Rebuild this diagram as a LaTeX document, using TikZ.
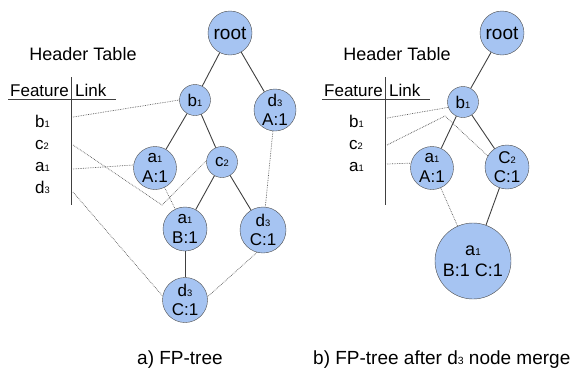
\documentclass[tikz,border=0pt]{standalone}
\usepackage{fontspec}
\setmainfont{Liberation Sans}
\usetikzlibrary{positioning}
\definecolor{nodeblue}{RGB}{166,196,242}
\tikzset{fpnode/.style={circle,draw=black!70,fill=nodeblue,inner sep=0pt,
    align=center,font=\fontsize{17}{19.5}\selectfont}}
\tikzset{tree/.style={draw=black!75,line width=0.9pt}}
\tikzset{link/.style={densely dotted,draw=black!65,line width=0.7pt}}
\tikzset{item/.style={font=\fontsize{17}{17}\selectfont,inner sep=0pt,anchor=base west}}
\tikzset{htitle/.style={font=\fontsize{18}{18}\selectfont,inner sep=0pt,anchor=base}}
\tikzset{caption/.style={font=\fontsize{19}{19}\selectfont,inner sep=0pt,anchor=base west}}
\newcommand{\ix}[1]{\scalebox{0.55}{#1}}
\newcommand{\headertable}[2]{
    \node[htitle] (#2title) at (#1+12,60) {Header Table};
    \node[item] (#2feat) at (#1-61,96) {Feature};
    \node[item] (#2link) at (#1+4,96) {Link};
    \draw[tree] (#1-63,99) -- (#1+45,99);
    \draw[tree] (#1,77) -- (#1,205);
}

\begin{document}
\begin{tikzpicture}[x=1pt,y=-1pt]
        \useasboundingbox (0,0) rectangle (576,373);

        % a) FP-tree
        \headertable{71}{l}
        \node[item] (lib) at (35,127) {b\ix{1}};
        \node[item] (lic) at (35,149) {c\ix{2}};
        \node[item] (lia) at (35,171) {a\ix{1}};
        \node[item] (lid) at (35,193) {d\ix{3}};
        \coordinate (lhb) at (73,117);
        \coordinate (lhc) at (73,145);
        \coordinate (lha) at (73,169);
        \coordinate (lhd) at (73,192);
        \coordinate (lbend) at (162,205);

        \node[fpnode,minimum size=44pt,font=\fontsize{19}{19}\selectfont] (lroot) at (230,33) {root};
        \node[fpnode,minimum size=31pt] (lb) at (195,100) {b\ix{1}};
        \node[fpnode,minimum size=42pt] (ld1) at (275,110) {d\ix{3}\\A:1};
        \node[fpnode,minimum size=43pt] (la1) at (155,168) {a\ix{1}\\A:1};
        \node[fpnode,minimum size=31pt] (lc) at (222,162) {c\ix{2}};
        \node[fpnode,minimum size=44pt] (la2) at (185,229) {a\ix{1}\\B:1};
        \node[fpnode,minimum size=46pt] (ld2) at (263,230) {d\ix{3}\\C:1};
        \node[fpnode,minimum size=45pt] (ld3) at (185,300) {d\ix{3}\\C:1};

        \draw[tree] (lroot) -- (lb);
        \draw[tree] (lroot) -- (ld1);
        \draw[tree] (lb) -- (la1);
        \draw[tree] (lb) -- (lc);
        \draw[tree] (lc) -- (la2);
        \draw[tree] (lc) -- (ld2);
        \draw[tree] (la2) -- (ld3);

        \draw[link] (lhb) -- (lb.west);
        \draw[link] (lhc) -- (lbend) -- (lc.175);
        \draw[link] (lha) -- (la1.172);
        \draw[link] (lhd) -- (ld3.170);
        \draw[link] (la1) -- (la2);
        \draw[link] (ld1) -- (ld2);
        \draw[link] (ld2.-105) -- (ld3.8);

        % b) FP-tree after merge
        \headertable{385}{r}
        \node[item] (rib) at (349,127) {b\ix{1}};
        \node[item] (ric) at (349,149) {c\ix{2}};
        \node[item] (ria) at (349,171) {a\ix{1}};
        \coordinate (rhb) at (387,118);
        \coordinate (rhc) at (387,145);
        \coordinate (rha) at (387,164);
        \coordinate (rbend) at (445,116);

        \node[fpnode,minimum size=44pt,font=\fontsize{19}{19}\selectfont] (rroot) at (502,33) {root};
        \node[fpnode,minimum size=31pt] (rb) at (463,102) {b\ix{1}};
        \node[fpnode,minimum size=43pt] (ra1) at (432,168) {a\ix{1}\\A:1};
        \node[fpnode,minimum size=44pt] (rc) at (507,167) {C\ix{2}\\C:1};
        \node[fpnode,minimum size=76pt,font=\fontsize{18}{21}\selectfont] (ra2) at (473,261) {a\ix{1}\\B:1 C:1};

        \draw[tree] (rroot) -- (rb);
        \draw[tree] (rb) -- (ra1);
        \draw[tree] (rb) -- (rc);
        \draw[tree] (rc) -- (ra2);

        \draw[link] (rhb) -- (rb.200);
        \draw[link] (rhc) -- (rbend) -- (rc.150);
        \draw[link] (rha) -- (ra1.167);
        \draw[link] (ra1) -- (ra2);

        \node[caption] (lcap) at (137,364) {a) FP-tree};
        \node[caption] (rcap) at (313,364) {b) FP-tree after d\ix{3} node merge};
\end{tikzpicture}
\end{document}
